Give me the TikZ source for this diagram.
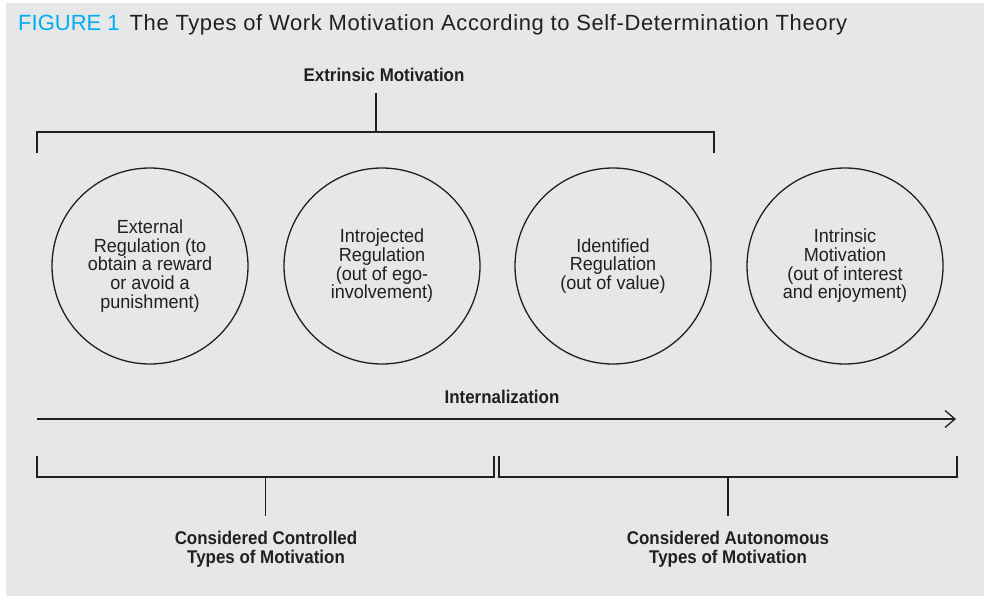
\documentclass[tikz,border=0pt]{standalone}
\usepackage{fontspec}
\setmainfont{Liberation Sans}
\newfontfamily\headfont{Liberation Sans}
\newfontfamily\titlefont{Liberation Sans}[LetterSpace=2.8]
\newfontfamily\condfont{Liberation Sans}[FakeStretch=0.92]
\newfontfamily\circfont{Liberation Sans}[FakeStretch=0.95]
\usetikzlibrary{arrows.meta}
\definecolor{panel}{HTML}{E6E7E8}
\definecolor{figblue}{HTML}{00AEEF}
\definecolor{ink}{HTML}{231F20}
\tikzset{
  rule/.style={draw=ink, line width=1.3pt},
  phase/.style={circle, draw=ink, line width=1.3pt, minimum size=196pt, inner sep=0pt,
    align=center, text=ink, font=\circfont\fontsize{19}{18.7}\selectfont},
  headlabel/.style={inner sep=0pt, anchor=base, text=ink, align=center,
    font=\condfont\bfseries\fontsize{18.4}{18.5}\selectfont},
}
\begin{document}
\begin{tikzpicture}[x=1pt, y=-1pt]
\useasboundingbox (0,0) rectangle (984,596);
\fill[panel] (6,3) rectangle (984,596);

% title line
\node[anchor=base west, inner sep=0pt, font=\headfont\fontsize{22}{24}\selectfont]
  (title) at (18,31) {\textcolor{figblue}{FIGURE 1}\hspace{10pt}\textcolor{ink}{\titlefont The Types of Work Motivation According to Self-Determination Theory}};

% extrinsic bracket
\node[headlabel] (extr) at (384,82) {Extrinsic Motivation};
\coordinate (eTop) at (376,93);
\coordinate (eMid) at (376,132);
\coordinate (eL) at (37,132);
\coordinate (eR) at (714,132);
\coordinate (eLt) at (37,153);
\coordinate (eRt) at (714,153);
\draw[rule] (eTop) -- (eMid);
\draw[rule] (eLt) -- (eL) -- (eR) -- (eRt);

% the four types
\node[phase] (ext) at (150,266) {External\\Regulation (to\\obtain a reward\\or avoid a\\punishment)};
\node[phase] (intro) at (382,266) {Introjected\\Regulation\\(out of ego-\\involvement)};
\node[phase] (ident) at (613,266) {Identified\\Regulation\\(out of value)};
\node[phase] (intr) at (845,266) {Intrinsic\\Motivation\\(out of interest\\and enjoyment)};

% internalization axis
\node[headlabel] (intern) at (502,403) {Internalization};
\coordinate (aStart) at (37,419);
\coordinate (aEnd) at (956,419);
\draw[rule, -{Straight Barb[length=10pt, width=17pt, line width=1.3pt]}] (aStart) -- (aEnd);

% lower brackets
\coordinate (cL) at (37,477);
\coordinate (cR) at (494,477);
\coordinate (cM) at (265.5,477);
\coordinate (aL) at (499,477);
\coordinate (aR) at (957,477);
\coordinate (aM) at (728,477);
\draw[rule] (cL) ++(0,-21) -- (cL) -- (cR) -- ++(0,-21);
\draw[rule] (aL) ++(0,-21) -- (aL) -- (aR) -- ++(0,-21);

\node[headlabel, anchor=north] (ctrl) at (266,531) {Considered Controlled\\Types of Motivation};
\node[headlabel, anchor=north] (auto) at (728,531) {Considered Autonomous\\Types of Motivation};
\draw[rule] (cM) -- (cM |- 0,516);
\draw[rule] (aM) -- (aM |- 0,516);
\end{tikzpicture}
\end{document}
